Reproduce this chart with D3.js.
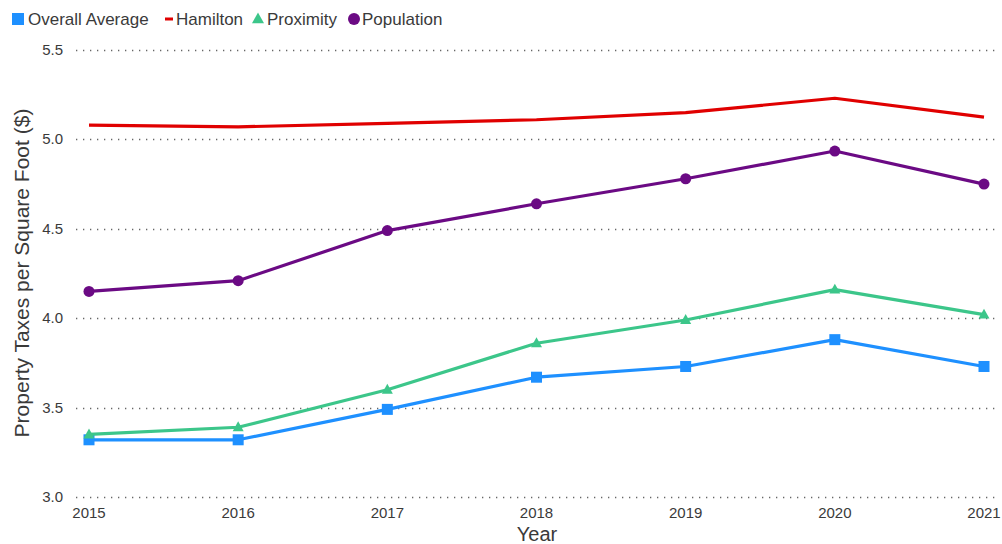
<!DOCTYPE html>
<html><head><meta charset="utf-8">
<script src="https://cdn.jsdelivr.net/npm/d3@7"></script>
<style>body{margin:0;background:#fff;}svg{display:block;font-family:"Liberation Sans",Arial,sans-serif;}</style>
</head><body>
<svg id="c" width="1002" height="544"></svg>
<script>
const years = [2015, 2016, 2017, 2018, 2019, 2020, 2021];
const overallAverage = [3.32, 3.32, 3.49, 3.67, 3.73, 3.88, 3.73];
const hamilton = [5.08, 5.07, 5.09, 5.11, 5.15, 5.23, 5.125];
const proximity = [3.35, 3.39, 3.60, 3.86, 3.99, 4.16, 4.02];
const population = [4.15, 4.21, 4.49, 4.64, 4.78, 4.935, 4.75];
const yTicks = [3.0, 3.5, 4.0, 4.5, 5.0, 5.5];
const seriesNames = ["Overall Average", "Hamilton", "Proximity", "Population"];

const series = [
  {name: seriesNames[0], values: overallAverage, color: "#1E90FF", marker: "square"},
  {name: seriesNames[1], values: hamilton, color: "#E00000", marker: "none"},
  {name: seriesNames[2], values: proximity, color: "#3CC68A", marker: "triangle"},
  {name: seriesNames[3], values: population, color: "#6B0A84", marker: "circle"}
];

const svg = d3.select("#c");
const x = d3.scaleLinear().domain([2015, 2021]).range([89, 984]);
const y = d3.scaleLinear().domain([3.0, 5.5]).range([497, 50]);

// grid
svg.append("g").selectAll("line").data(yTicks).join("line")
  .attr("x1", 76).attr("x2", 1000)
  .attr("y1", d => Math.round(y(d)) + 0.5).attr("y2", d => Math.round(y(d)) + 0.5)
  .attr("stroke", "#666").attr("stroke-width", 1.3).attr("stroke-dasharray", "1.3,5.7");

// y tick labels
svg.append("g").selectAll("text").data(yTicks).join("text")
  .attr("x", 63).attr("y", d => y(d) + 5)
  .attr("text-anchor", "end").attr("font-size", 15).attr("fill", "#3a3a3a")
  .text(d => d.toFixed(1));

// x tick labels
svg.append("g").selectAll("text").data(years).join("text")
  .attr("x", d => x(d)).attr("y", 518)
  .attr("text-anchor", "middle").attr("font-size", 15).attr("fill", "#3a3a3a")
  .text(d => d);

// axis titles
svg.append("text").attr("x", 537).attr("y", 541).attr("text-anchor", "middle")
  .attr("font-size", 20).attr("fill", "#3a3a3a").text("Year");
svg.append("text").attr("transform", "translate(29,273) rotate(-90)")
  .attr("text-anchor", "middle").attr("font-size", 21).attr("fill", "#3a3a3a")
  .text("Property Taxes per Square Foot ($)");

const line = d3.line().x((d, i) => x(years[i])).y(d => y(d));

function drawMarker(g, type, cx, cy, color, s) {
  if (type === "square") {
    g.append("rect").attr("x", cx - s/2).attr("y", cy - s/2).attr("width", s).attr("height", s).attr("fill", color);
  } else if (type === "circle") {
    g.append("circle").attr("cx", cx).attr("cy", cy).attr("r", s/2).attr("fill", color);
  } else if (type === "triangle") {
    const h = s * 0.9;
    g.append("path").attr("d", `M${cx},${cy - h*0.6}L${cx + s/2},${cy + h*0.4}L${cx - s/2},${cy + h*0.4}Z`).attr("fill", color);
  } else if (type === "dash") {
    g.append("rect").attr("x", cx - 4).attr("y", cy - 1.5).attr("width", 8).attr("height", 3).attr("fill", color);
  }
}

series.forEach(s => {
  svg.append("path").datum(s.values).attr("d", line)
    .attr("fill", "none").attr("stroke", s.color).attr("stroke-width", 3.2)
    .attr("stroke-linejoin", "round");
  const g = svg.append("g");
  if (s.marker !== "none") {
    s.values.forEach((v, i) => drawMarker(g, s.marker, x(years[i]), y(v), s.color, 11));
  }
});

// legend
const legend = [
  {name: seriesNames[0], color: "#1E90FF", marker: "square", mx: 18, tx: 28},
  {name: seriesNames[1], color: "#E00000", marker: "dash", mx: 169, tx: 176},
  {name: seriesNames[2], color: "#3CC68A", marker: "triangle", mx: 258, tx: 267},
  {name: seriesNames[3], color: "#6B0A84", marker: "circle", mx: 354, tx: 362}
];
const lg = svg.append("g");
legend.forEach(l => {
  drawMarker(lg, l.marker, l.mx, 19, l.color, 12);
  lg.append("text").attr("x", l.tx).attr("y", 25).attr("font-size", 17).attr("fill", "#3a3a3a").text(l.name);
});
</script>
</body></html>
